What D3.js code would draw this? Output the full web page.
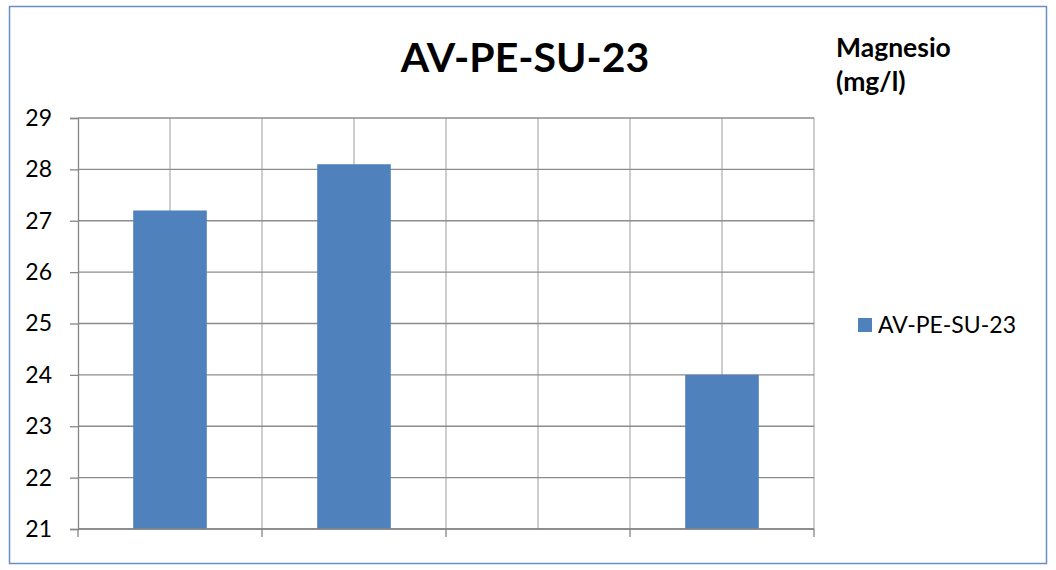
<!DOCTYPE html>
<html><head><meta charset="utf-8">
<script src="https://cdn.jsdelivr.net/npm/d3@7"></script>
<style>
html,body{margin:0;padding:0;background:#fff;}
svg{display:block;font-family:Lato,"Open Sans",sans-serif;}
</style></head>
<body>
<svg id="chart" width="1056" height="570"></svg>
<script>
const categories = ["1", "2", "3", "4"];
const values = [27.2, 28.1, null, 24.0];
const seriesName = "AV-PE-SU-23";
const title = "AV-PE-SU-23";
const yTicks = [21, 22, 23, 24, 25, 26, 27, 28, 29];
const unitLines = ["Magnesio", "(mg/l)"];

const svg = d3.select("#chart");
const m = {left: 78, right: 814, top: 118, bottom: 529};

svg.append("rect").attr("x", 9.5).attr("y", 6.5).attr("width", 1037).attr("height", 557)
  .attr("fill", "#fff").attr("stroke", "#6a8fc8").attr("stroke-width", 1.5);

const x = d3.scaleBand().domain(categories).range([m.left, m.right]).paddingInner(0).paddingOuter(0);
const y = d3.scaleLinear().domain([21, 29]).range([m.bottom, m.top]);

const g = svg.append("g");
const vlines = [];
categories.forEach(c => { vlines.push(x(c) + x.bandwidth() / 2); vlines.push(x(c) + x.bandwidth()); });
g.selectAll(".vg").data(vlines).enter().append("line")
  .attr("x1", d => d).attr("x2", d => d).attr("y1", m.top).attr("y2", m.bottom)
  .attr("stroke", "#b3b3b3").attr("stroke-width", 1.3);
g.selectAll(".hg").data(yTicks).enter().append("line")
  .attr("x1", m.left).attr("x2", m.right).attr("y1", d => y(d)).attr("y2", d => y(d))
  .attr("stroke", "#8c8c8c").attr("stroke-width", 1.3);

const bw = x.bandwidth() * 0.4;
g.selectAll(".bar").data(categories.map((c, i) => ({c, v: values[i]})).filter(d => d.v != null))
  .enter().append("rect")
  .attr("x", d => x(d.c) + (x.bandwidth() - bw) / 2)
  .attr("width", bw)
  .attr("y", d => y(d.v))
  .attr("height", d => y(21) - y(d.v))
  .attr("fill", "#4f81bd");

const yAxis = d3.axisLeft(y).tickValues(yTicks).tickSize(8).tickPadding(18).tickFormat(d3.format("d"));
const ya = svg.append("g").attr("transform", `translate(${m.left},0)`).call(yAxis);
ya.select(".domain").attr("stroke", "#868686").attr("stroke-width", 1.3);
ya.selectAll(".tick line").attr("stroke", "#868686").attr("stroke-width", 1.3);
ya.selectAll(".tick text").attr("font-size", 23).attr("fill", "#000").attr("font-family", "Lato");

const xb = categories.map(c => x(c)).concat([m.right]);
const xa = svg.append("g");
xa.append("line").attr("x1", m.left).attr("x2", m.right).attr("y1", m.bottom).attr("y2", m.bottom)
  .attr("stroke", "#868686").attr("stroke-width", 1.5);
xa.selectAll(".xt").data(xb).enter().append("line")
  .attr("x1", d => d).attr("x2", d => d).attr("y1", m.bottom).attr("y2", m.bottom + 8)
  .attr("stroke", "#868686").attr("stroke-width", 1.3);

svg.append("text").attr("x", 525).attr("y", 72).attr("text-anchor", "middle")
  .attr("font-size", 41).attr("font-weight", "bold").attr("fill", "#000").text(title);

svg.append("text").attr("x", 836).attr("y", 57).attr("font-size", 26.5).attr("font-weight", "bold")
  .selectAll("tspan").data(unitLines).enter().append("tspan")
  .attr("x", 836).attr("dy", (d, i) => i === 0 ? 0 : 34).text(d => d);

const lg = svg.append("g").attr("transform", "translate(858,318)");
lg.append("rect").attr("width", 14).attr("height", 14).attr("fill", "#4f81bd");
lg.append("text").attr("x", 20).attr("y", 15).attr("font-size", 23).attr("fill", "#000").text(seriesName);
</script>
</body></html>
